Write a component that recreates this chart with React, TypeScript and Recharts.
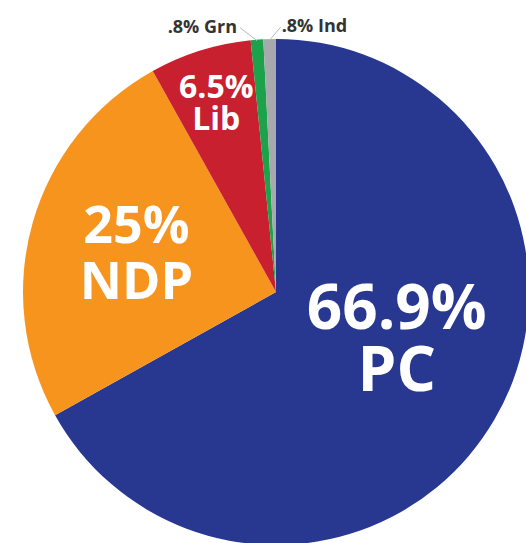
import React from 'react';
import { PieChart, Pie, Cell } from 'recharts';

const parties = ['PC', 'NDP', 'Lib', 'Grn', 'Ind'];
const shares = [66.9, 25, 6.5, 0.8, 0.8];
const shareLabels = ['66.9%', '25%', '6.5%', '.8%', '.8%'];
const colors = ['#283891', '#f7941d', '#c8202f', '#1ba24b', '#a7a9ac'];

const data = parties.map((name, i) => ({ name, value: shares[i], label: shareLabels[i] }));

// label placement: radius along the slice's mid angle, plus small nudges
const inside: Record<string, { r: number; dy: number; fs: number; gap: number }> = {
    PC: { r: 140, dy: -25, fs: 62, gap: 62 },
    NDP: { r: 145, dy: 0, fs: 52, gap: 56 },
    Lib: { r: 199, dy: 0, fs: 32, gap: 32 },
};

const RADIAN = Math.PI / 180;
const font = "'Open Sans', sans-serif";

function renderLabel(props: any) {
    const { cx, cy, midAngle, outerRadius, index } = props;
    const name = parties[index];
    const text = shareLabels[index];
    const cos = Math.cos(-midAngle * RADIAN);
    const sin = Math.sin(-midAngle * RADIAN);
    const cfg = inside[name];
    if (cfg) {
        const x = cx + cfg.r * cos;
        const y = cy + cfg.r * sin + cfg.dy;
        const b1 = y - cfg.gap / 2 + (cfg.fs * 0.714) / 2;
        return (
            <text key={`lbl-${index}`} x={x} y={b1} textAnchor="middle" fill="#fff" fontSize={cfg.fs} fontWeight={700} fontFamily={font}>
                <tspan x={x} y={b1}>{text}</tspan>
                <tspan x={x} y={b1 + cfg.gap}>{name}</tspan>
            </text>
        );
    }
    // small slices: outside label with a thin leader line
    const sx = cx + (outerRadius - 1) * cos;
    const sy = cy + (outerRadius - 1) * sin;
    const left = name === 'Grn';
    const ex = left ? sx - 17 : sx + 11;
    const ey = sy - 13;
    return (
        <g key={`lbl-${index}`}>
            <line x1={sx} y1={sy} x2={ex} y2={ey} stroke="#b9bcc4" strokeWidth={1} />
            <text x={left ? ex - 3 : ex + 1} y={ey + 5} textAnchor={left ? 'end' : 'start'} fill="#333" fontSize={18} fontWeight={700} fontFamily={font}>
                {`${text} ${name}`}
            </text>
        </g>
    );
}

export default function App() {
    return (
        <div style={{ position: 'absolute', left: 0, top: 0, width: 526, height: 543, background: '#fff' }}>
            <PieChart width={526} height={543}>
                <Pie
                    data={data}
                    dataKey="value"
                    nameKey="name"
                    cx={271}
                    cy={287}
                    outerRadius={253}
                    startAngle={90}
                    endAngle={-270}
                    stroke="none"
                    labelLine={false}
                    label={renderLabel}
                    isAnimationActive={false}
                >
                    {data.map((entry, index) => (
                        <Cell key={`cell-${index}`} fill={colors[index]} />
                    ))}
                </Pie>
            </PieChart>
        </div>
    );
}
